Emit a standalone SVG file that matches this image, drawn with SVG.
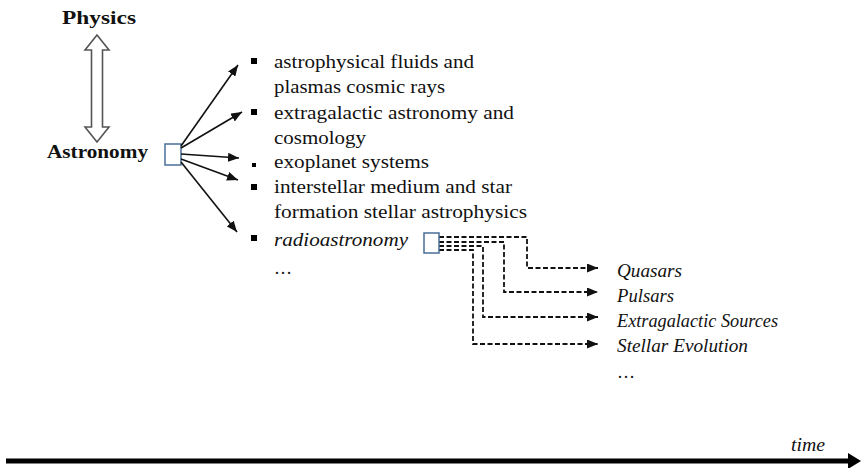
<svg xmlns="http://www.w3.org/2000/svg" width="861" height="468" viewBox="0 0 861 468">
<defs>
<style>
.t{font-family:"Liberation Serif","Times New Roman",serif;font-size:18px;fill:#111}
.b{font-family:"Liberation Serif","Times New Roman",serif;font-size:19px;font-weight:bold;fill:#111}
.i{font-family:"Liberation Serif","Times New Roman",serif;font-size:18px;font-style:italic;fill:#111}
.box{fill:#fff;stroke:#4a6f96;stroke-width:1.5}
.sol{stroke:#111;stroke-width:1.6;fill:none}
.dash{stroke:#111;stroke-width:1.8;fill:none;stroke-dasharray:5,2.5}
.bul{fill:#000}
</style>
<marker id="ah" markerWidth="11" markerHeight="9" refX="11" refY="4.5" orient="auto" markerUnits="userSpaceOnUse"><path d="M0,0 L11,4.5 L0,9 z" fill="#111"/></marker>
</defs>
<rect width="861" height="468" fill="#fff"/>

<g id="physics"><text class="b" x="62" y="24" textLength="74" lengthAdjust="spacingAndGlyphs">Physics</text></g>
<g id="physics-astronomy-link">
<path d="M97,35 L109,50 L102.5,50 L102.5,127 L109,127 L97,142 L85,127 L91.5,127 L91.5,50 L85,50 Z" fill="#fff" stroke="#555" stroke-width="1.6"/>
</g>
<g id="astronomy">
<text class="b" x="47" y="158" textLength="101" lengthAdjust="spacingAndGlyphs">Astronomy</text>
<rect class="box" x="165" y="144" width="16" height="21"/>
</g>

<g id="connectors">
<line class="sol" x1="181" y1="146" x2="238" y2="65" marker-end="url(#ah)"/>
<line class="sol" x1="181" y1="148" x2="242" y2="112" marker-end="url(#ah)"/>
<line class="sol" x1="181" y1="154" x2="239" y2="158" marker-end="url(#ah)"/>
<line class="sol" x1="181" y1="159" x2="238" y2="180" marker-end="url(#ah)"/>
<line class="sol" x1="181" y1="162" x2="237" y2="232" marker-end="url(#ah)"/>
<path class="dash" d="M439,237 H527 V268 H598" marker-end="url(#ah)"/>
<path class="dash" d="M439,242 H504 V292 H598" marker-end="url(#ah)"/>
<path class="dash" d="M439,246 H483 V317 H598" marker-end="url(#ah)"/>
<path class="dash" d="M439,250 H473 V344 H598" marker-end="url(#ah)"/>
</g>

<g id="topic-fluids">
<rect class="bul" x="251" y="58" width="6" height="6"/>
<text class="t" x="274" y="68" textLength="200" lengthAdjust="spacingAndGlyphs">astrophysical fluids and</text>
<text class="t" x="274" y="93" textLength="171" lengthAdjust="spacingAndGlyphs">plasmas cosmic rays</text>
</g>
<g id="topic-extragalactic">
<rect class="bul" x="251" y="109" width="6" height="6"/>
<text class="t" x="274" y="119" textLength="240" lengthAdjust="spacingAndGlyphs">extragalactic astronomy and</text>
<text class="t" x="274" y="144" textLength="92" lengthAdjust="spacingAndGlyphs">cosmology</text>
</g>
<g id="topic-exoplanet">
<rect class="bul" x="252" y="163" width="4" height="4"/>
<text class="t" x="274" y="168" textLength="155" lengthAdjust="spacingAndGlyphs">exoplanet systems</text>
</g>
<g id="topic-interstellar">
<rect class="bul" x="251" y="184" width="6" height="6"/>
<text class="t" x="274" y="193" textLength="238" lengthAdjust="spacingAndGlyphs">interstellar medium and star</text>
<text class="t" x="274" y="218" textLength="253" lengthAdjust="spacingAndGlyphs">formation stellar astrophysics</text>
</g>
<g id="topic-radioastronomy">
<rect class="bul" x="251" y="235" width="6" height="6"/>
<text class="i" x="274" y="246" textLength="134" lengthAdjust="spacingAndGlyphs">radioastronomy</text>
<rect class="box" x="424" y="233" width="15" height="20"/>
</g>
<g id="topic-more"><text class="t" x="274" y="274">…</text></g>

<g id="quasars"><text class="i" x="617" y="277" textLength="65" lengthAdjust="spacingAndGlyphs">Quasars</text></g>
<g id="pulsars"><text class="i" x="617" y="302" textLength="57" lengthAdjust="spacingAndGlyphs">Pulsars</text></g>
<g id="extragalactic-sources"><text class="i" x="617" y="327" textLength="161" lengthAdjust="spacingAndGlyphs">Extragalactic Sources</text></g>
<g id="stellar-evolution"><text class="i" x="617" y="352" textLength="131" lengthAdjust="spacingAndGlyphs">Stellar Evolution</text></g>
<g id="radio-more"><text class="t" x="617" y="378">…</text></g>

<g id="time-axis">
<line x1="6" y1="461" x2="851" y2="461" stroke="#000" stroke-width="5"/>
<path d="M848,453 L861,461 L848,469 Z" fill="#000"/>
<text class="i" x="791" y="451" textLength="34" lengthAdjust="spacingAndGlyphs">time</text>
</g>
</svg>
